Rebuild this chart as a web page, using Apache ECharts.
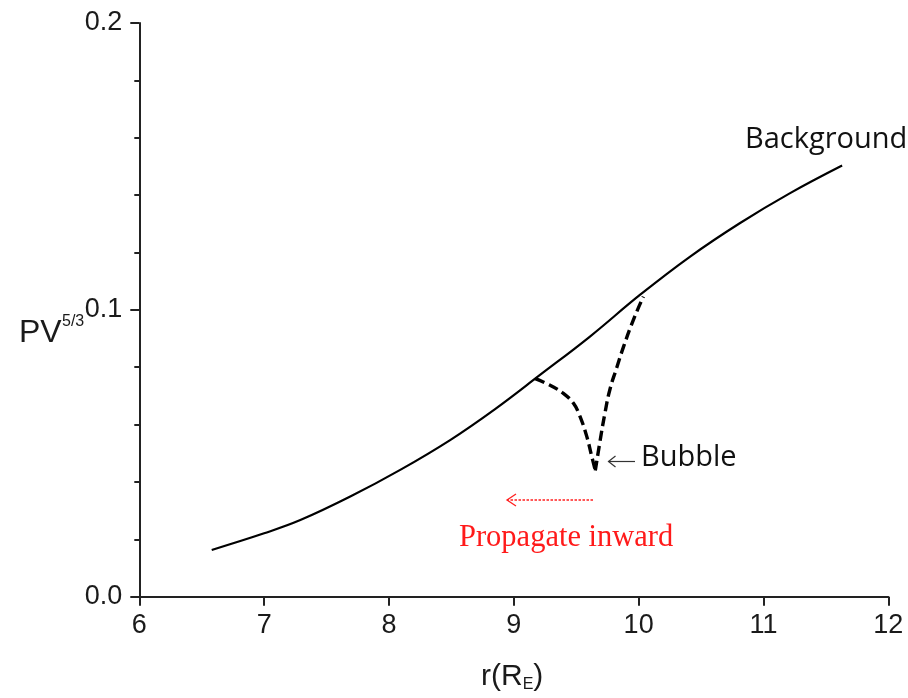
<!DOCTYPE html>
<html>
<head>
<meta charset="utf-8">
<script src="https://cdn.jsdelivr.net/npm/echarts@6/dist/echarts.min.js"></script>
<style>
  html, body { margin: 0; padding: 0; background: #fff; }
  #chart { width: 908px; height: 698px; }
</style>
</head>
<body>
<div id="chart"></div>
<script>
// Background PV^(5/3) profile versus radial distance
const backgroundR = [6.58, 7.0, 7.29, 7.69, 8.09, 8.49, 8.85, 9.21, 9.61, 10.01, 10.41, 10.81, 11.21, 11.63];
const backgroundPV = [0.0163, 0.0221, 0.0267, 0.0349, 0.0442, 0.0546, 0.0654, 0.0773, 0.0907, 0.1052, 0.1185, 0.1302, 0.1406, 0.1503];

// Depleted flux tube (bubble) profile: descending flank, minimum, rising flank
const bubbleR = [9.171, 9.291, 9.397, 9.478, 9.531, 9.585, 9.625, 9.653, 9.69, 9.731, 9.771, 9.825, 9.878, 9.958, 10.038];
const bubblePV = [0.0760, 0.0737, 0.0709, 0.0674, 0.0628, 0.0558, 0.0488, 0.0440, 0.0540, 0.0642, 0.0724, 0.0799, 0.0870, 0.0965, 0.1046];

// Axis tick values
const xTicks = [6, 7, 8, 9, 10, 11, 12];
const yTicks = [0.0, 0.1, 0.2];

const pair = (xs, ys) => xs.map((x, i) => [x, ys[i]]);

// split the bubble at its minimum so the trough stays a sharp V
const bubblePts = pair(bubbleR, bubblePV);
const minIdx = bubblePV.indexOf(Math.min(...bubblePV));
const bubbleDown = bubblePts.slice(0, minIdx + 1);
const bubbleUp = bubblePts.slice(minIdx);

const chart = echarts.init(document.getElementById('chart'), null, { renderer: 'canvas' });

const sans = 'Liberation Sans, Arial, sans-serif';
const axisFont = { fontFamily: sans, fontSize: 27, color: '#1a1a1a' };
const dashStyle = { color: '#000', width: 3.4, type: [10, 5] };

chart.setOption({
  animation: false,
  backgroundColor: '#ffffff',
  grid: { left: 139.3, right: 19.7, top: 23, bottom: 101.3, containLabel: false },
  xAxis: {
    type: 'value',
    min: xTicks[0],
    max: xTicks[xTicks.length - 1],
    interval: 1,
    axisLine: { show: true, lineStyle: { color: '#222', width: 2 } },
    axisTick: { show: true, inside: false, length: 9, lineStyle: { color: '#222', width: 2 } },
    minorTick: { show: false },
    splitLine: { show: false },
    axisLabel: Object.assign({ margin: 15 }, axisFont)
  },
  yAxis: {
    type: 'value',
    min: yTicks[0],
    max: yTicks[yTicks.length - 1],
    interval: 0.1,
    axisLine: { show: true, lineStyle: { color: '#222', width: 2 } },
    axisTick: { show: true, inside: false, length: 9, lineStyle: { color: '#222', width: 2 } },
    minorTick: { show: true, splitNumber: 5, length: 5, lineStyle: { color: '#222', width: 2 } },
    splitLine: { show: false },
    axisLabel: Object.assign({ margin: 17, formatter: v => v.toFixed(1) }, axisFont)
  },
  series: [
    {
      name: 'Background',
      type: 'line',
      data: pair(backgroundR, backgroundPV),
      smooth: 0.4,
      showSymbol: false,
      lineStyle: { color: '#000', width: 2.2 }
    },
    {
      name: 'Bubble',
      type: 'line',
      data: bubbleDown,
      smooth: 0.4,
      showSymbol: false,
      lineStyle: dashStyle
    },
    {
      name: 'Bubble',
      type: 'line',
      data: bubbleUp,
      smooth: 0.5,
      showSymbol: false,
      lineStyle: dashStyle
    }
  ],
  graphic: [
    // y-axis title with superscript
    { type: 'text', left: 19, top: 317, style: { text: 'PV', fontFamily: sans, fontSize: 32, fill: '#1a1a1a' } },
    { type: 'text', left: 62, top: 314, style: { text: '5/3', fontFamily: sans, fontSize: 16, fill: '#1a1a1a' } },
    // x-axis title with subscript
    {
      type: 'text', left: 481, top: 662,
      style: {
        text: '{b|r(R}{s|E}{b|)}',
        rich: {
          b: { fontFamily: sans, fontSize: 30, fill: '#1a1a1a' },
          s: { fontFamily: sans, fontSize: 16, fill: '#1a1a1a', padding: [16, 0, 0, 0] }
        }
      }
    },
    {
      type: 'text', left: 745, top: 125,
      style: { text: 'Background', fontFamily: 'Open Sans, Noto Sans, sans-serif', fontSize: 29, fill: '#111' }
    },
    {
      type: 'text', left: 641, top: 443,
      style: { text: 'Bubble', fontFamily: 'Open Sans, Noto Sans, sans-serif', fontSize: 29, fill: '#111' }
    },
    // arrow pointing at the bubble minimum
    {
      type: 'polyline',
      shape: { points: [[635, 461.5], [608.5, 461.5]] },
      style: { stroke: '#333', lineWidth: 1.2 }
    },
    {
      type: 'polyline',
      shape: { points: [[615.5, 456], [608.5, 461.5], [615.5, 467]] },
      style: { stroke: '#333', lineWidth: 1.2, fill: null }
    },
    // red dashed propagation arrow
    {
      type: 'polyline',
      shape: { points: [[593, 500], [507, 500]] },
      style: { stroke: '#ff2020', lineWidth: 1.3, lineDash: [2.5, 1.5] }
    },
    {
      type: 'polyline',
      shape: { points: [[516, 494], [507, 500], [516, 506]] },
      style: { stroke: '#ff2020', lineWidth: 1.3, fill: null }
    },
    {
      type: 'text', left: 459, top: 522,
      style: { text: 'Propagate inward', fontFamily: 'Liberation Serif, Times New Roman, serif', fontSize: 30.5, fill: '#ff1a1a' }
    }
  ]
});
</script>
</body>
</html>
